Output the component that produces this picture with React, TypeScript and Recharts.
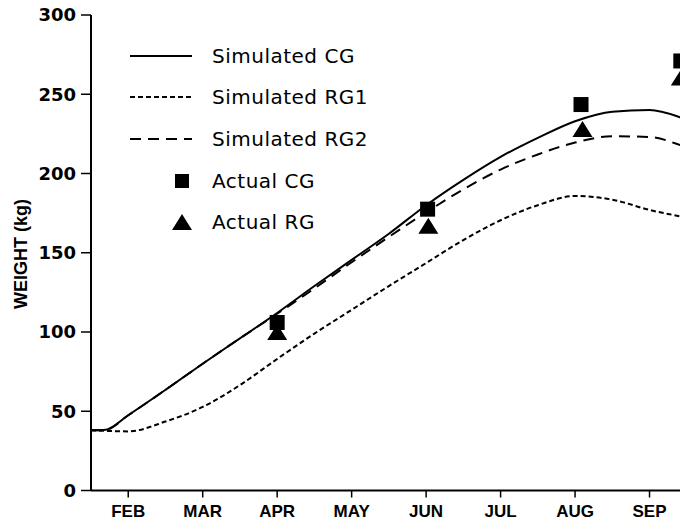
import React from 'react';
import { ComposedChart, Line, Scatter, XAxis, YAxis, Legend, Label } from 'recharts';

// month number: FEB = 2 ... SEP = 9
const MONTH_TICKS = [2, 3, 4, 5, 6, 7, 8, 9];
const MONTH_NAMES = ['FEB', 'MAR', 'APR', 'MAY', 'JUN', 'JUL', 'AUG', 'SEP'];
const WEIGHT_TICKS = [0, 50, 100, 150, 200, 250, 300];

const SIM_MONTH = [1.5, 1.7, 2, 2.5, 3, 3.5, 4, 4.5, 5, 5.5, 6, 6.5, 7, 7.5, 8, 8.5, 9, 9.5, 10];
const SIM_CG = [38, 38.4, 47.5, 63.5, 80, 96, 112, 129, 145.5, 162, 180, 196, 210.5, 222.5, 233, 239, 240, 234, 225];
const SIM_RG1 = [38, 37.6, 37.3, 43.5, 52.7, 66.5, 83, 99, 114, 129, 143.5, 158, 170.5, 180, 185.8, 183.5, 177, 172, 166];
const SIM_RG2 = [38, 38.4, 47.5, 63.5, 80, 96, 111.5, 127.5, 144, 160, 175.5, 190, 202.5, 212, 219.5, 223.5, 223, 216.5, 208];

const ACTUAL_CG_MONTH = [4, 6.02, 8.08, 9.42];
const ACTUAL_CG = [106, 177.5, 243.5, 271];
const ACTUAL_RG_MONTH = [4, 6.03, 8.1, 9.42];
const ACTUAL_RG = [100, 167, 228, 260.5];

const LEGEND_LABELS = ['Simulated CG', 'Simulated RG1', 'Simulated RG2', 'Actual CG', 'Actual RG'];

const simData = SIM_MONTH.map((m, i) => ({ m, cg: SIM_CG[i], rg1: SIM_RG1[i], rg2: SIM_RG2[i] }));
const actualCgData = ACTUAL_CG_MONTH.map((m, i) => ({ m, w: ACTUAL_CG[i] }));
const actualRgData = ACTUAL_RG_MONTH.map((m, i) => ({ m, w: ACTUAL_RG[i] }));

const RG1_DASH = '5 3';
const RG2_DASH = '11 7';

const SquareShape = (props: any) => {
  const { cx, cy } = props;
  if (cx == null || cy == null) return null;
  return <rect x={cx - 7.5} y={cy - 7.5} width={15} height={15} fill="#000" />;
};

const TriangleShape = (props: any) => {
  const { cx, cy } = props;
  if (cx == null || cy == null) return null;
  return <polygon points={`${cx},${cy - 8} ${cx - 10},${cy + 8} ${cx + 10},${cy + 8}`} fill="#000" />;
};

const LegendBox = () => {
  const rowH = 41.6;
  return (
    <div style={{ width: 320 }}>
      {LEGEND_LABELS.map((label, i) => (
        <div key={label} style={{ height: rowH, display: 'flex', alignItems: 'center' }}>
          <svg width={92} height={24} style={{ flex: 'none' }}>
            {i === 0 && <line x1={10} y1={12} x2={72} y2={12} stroke="#000" strokeWidth={2} />}
            {i === 1 && <line x1={10} y1={12} x2={72} y2={12} stroke="#000" strokeWidth={2} strokeDasharray={RG1_DASH} />}
            {i === 2 && <line x1={10} y1={12} x2={72} y2={12} stroke="#000" strokeWidth={2} strokeDasharray={RG2_DASH} />}
            {i === 3 && <rect x={55} y={5} width={14} height={14} fill="#000" />}
            {i === 4 && <polygon points="62,4 52,20 72,20" fill="#000" />}
          </svg>
          <span style={{ fontFamily: '"DejaVu Sans", sans-serif', fontSize: 20, letterSpacing: 0.5, color: '#000', whiteSpace: 'nowrap' }}>
            {label}
          </span>
        </div>
      ))}
    </div>
  );
};

const YTitle = () => (
  <text
    transform="translate(27,254) rotate(-90)"
    textAnchor="middle"
    fontFamily='"Liberation Sans", Arial, sans-serif'
    fontWeight="bold"
    fontSize={18}
    fill="#000"
  >
    WEIGHT (kg)
  </text>
);

export default function App() {
  return (
    <div style={{ position: 'absolute', left: 0, top: 0, width: 680, height: 523, overflow: 'hidden', background: '#fff' }}>
      <ComposedChart width={734} height={523} data={simData} margin={{ top: 15, right: 10, bottom: 0, left: 0 }}>
        <XAxis
          dataKey="m"
          type="number"
          domain={[1.5, 10]}
          ticks={MONTH_TICKS}
          tickFormatter={(v: number) => MONTH_NAMES[MONTH_TICKS.indexOf(v)] ?? ''}
          height={32.5}
          tickSize={7}
          tickMargin={7}
          axisLine={{ stroke: '#000', strokeWidth: 2 }}
          tickLine={{ stroke: '#000', strokeWidth: 1.5 }}
          tick={{ fill: '#000', fontSize: 17, fontWeight: 'bold', fontFamily: '"Liberation Sans", Arial, sans-serif' }}
          allowDataOverflow
        />
        <YAxis
          type="number"
          domain={[0, 300]}
          ticks={WEIGHT_TICKS}
          width={91}
          tickSize={10}
          tickMargin={5}
          axisLine={{ stroke: '#000', strokeWidth: 2 }}
          tickLine={{ stroke: '#000', strokeWidth: 1.5 }}
          tick={{ fill: '#000', fontSize: 18, fontWeight: 'bold', fontFamily: '"DejaVu Sans", sans-serif' }}
        >
          <Label content={<YTitle />} />
        </YAxis>
        <Legend
          layout="vertical"
          align="center"
          verticalAlign="middle"
          content={<LegendBox />}
          wrapperStyle={{ left: 120, top: 35, width: 320 }}
        />
        <Line dataKey="cg" type="monotone" stroke="#000" strokeWidth={2} dot={false} isAnimationActive={false} />
        <Line dataKey="rg1" type="monotone" stroke="#000" strokeWidth={2} strokeDasharray={RG1_DASH} dot={false} isAnimationActive={false} />
        <Line dataKey="rg2" type="monotone" stroke="#000" strokeWidth={2} strokeDasharray={RG2_DASH} dot={false} isAnimationActive={false} />
        <Scatter data={actualCgData} dataKey="w" shape={<SquareShape />} isAnimationActive={false} />
        <Scatter data={actualRgData} dataKey="w" shape={<TriangleShape />} isAnimationActive={false} />
      </ComposedChart>
    </div>
  );
}
